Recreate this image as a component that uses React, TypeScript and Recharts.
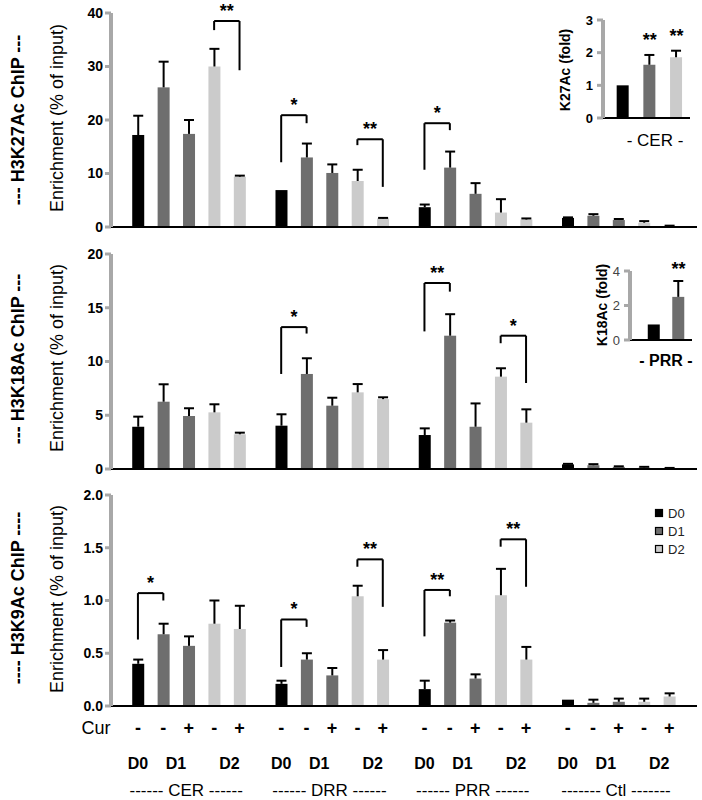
import React from "react";
import { BarChart, Bar, XAxis, YAxis, ReferenceLine, ReferenceDot } from "recharts";

const FONT = '"Liberation Sans", Arial, Helvetica, sans-serif';

const groups = ["CER", "DRR", "PRR", "Ctl"];
const barDays = ["D0", "D1", "D1", "D2", "D2"];
const curSigns = ["-", "-", "+", "-", "+"];
const dayLabels = ["D0", "D1", "D2"];
const dayLabelOffsets = [0, 1.5, 3.6];
const groupLabels = ["------ CER ------", "------ DRR ------", "------ PRR ------", "------- Ctl -------"];
const groupLabelOffset = 1.9;

// H3K27Ac, % of input
const k27Values = [17.2, 26.1, 17.4, 30.0, 9.4, 6.9, 13.0, 10.1, 8.6, 1.6, 3.7, 11.1, 6.2, 2.7, 1.4, 1.7, 2.1, 1.3, 0.8, 0.15];
const k27Errors = [3.6, 4.8, 2.6, 3.3, 0.2, 0, 2.6, 1.6, 2.1, 0.1, 0.5, 3.0, 2.0, 2.5, 0.2, 0.1, 0.3, 0.2, 0.3, 0.1];
// H3K18Ac
const k18Values = [3.93, 6.26, 4.93, 5.27, 3.23, 4.03, 8.84, 5.89, 7.13, 6.5, 3.16, 12.4, 3.93, 8.59, 4.31, 0.43, 0.35, 0.2, 0.15, 0.05];
const k18Errors = [0.94, 1.62, 0.72, 0.75, 0.15, 1.06, 1.46, 0.74, 0.77, 0.17, 0.62, 2.0, 2.17, 0.78, 1.24, 0.05, 0.1, 0.05, 0.05, 0.05];
// H3K9Ac
const k9Values = [0.4, 0.68, 0.57, 0.78, 0.73, 0.21, 0.44, 0.29, 1.04, 0.44, 0.16, 0.79, 0.26, 1.05, 0.44, 0.06, 0.03, 0.04, 0.04, 0.09];
const k9Errors = [0.04, 0.1, 0.09, 0.22, 0.22, 0.03, 0.06, 0.07, 0.1, 0.09, 0.08, 0.02, 0.04, 0.25, 0.12, 0, 0.03, 0.03, 0.03, 0.03];

const k27Ticks = [0, 10, 20, 30, 40];
const k18Ticks = [0, 5, 10, 15, 20];
const k9Ticks = [0, 0.5, 1, 1.5, 2];

// brackets: bar indices a/b, y of top, y where left/right legs end
type Bracket = { a: number; b: number; top: number; left: number; right: number; stars: string };
const k27Brackets: Bracket[] = [
  { a: 3, b: 4, top: 38.5, left: 36.8, right: 29.3, stars: "**" },
  { a: 5, b: 6, top: 20.9, left: 12.1, right: 19.4, stars: "*" },
  { a: 8, b: 9, top: 16.4, left: 15.3, right: 7.5, stars: "**" },
  { a: 10, b: 11, top: 19.4, left: 10.7, right: 18.1, stars: "*" },
];
const k18Brackets: Bracket[] = [
  { a: 5, b: 6, top: 13.2, left: 8.84, right: 12.6, stars: "*" },
  { a: 10, b: 11, top: 17.3, left: 12.8, right: 16.5, stars: "**" },
  { a: 13, b: 14, top: 12.4, left: 11.7, right: 8.0, stars: "*" },
];
const k9Brackets: Bracket[] = [
  { a: 0, b: 1, top: 1.07, left: 0.63, right: 1.0, stars: "*" },
  { a: 5, b: 6, top: 0.82, left: 0.37, right: 0.75, stars: "*" },
  { a: 8, b: 9, top: 1.39, left: 1.32, right: 0.94, stars: "**" },
  { a: 10, b: 11, top: 1.1, left: 0.66, right: 1.04, stars: "**" },
  { a: 13, b: 14, top: 1.58, left: 1.51, right: 1.13, stars: "**" },
];

// insets (fold change)
const k27InsetDays = ["D0", "D1", "D2"];
const k27InsetValues = [1.0, 1.63, 1.86];
const k27InsetErrors = [0, 0.3, 0.2];
const k27InsetStars = ["", "**", "**"];
const k18InsetDays = ["D0", "D1"];
const k18InsetValues = [0.9, 2.5];
const k18InsetErrors = [0, 0.92];
const k18InsetStars = ["", "**"];

const dayColors: Record<string, string> = { D0: "#000000", D1: "#6e6e6e", D2: "#cbcbcb" };
const legendDays = ["D0", "D1", "D2"];

const GROUP_STEP = 5.64;
const X_DOMAIN: [number, number] = [-1.06, 22.01];

type Row = { x: number; v: number; e: number; day: string; cur: string };

function buildRows(values: number[], errors: number[]): Row[] {
  return values.map((v, k) => {
    const g = Math.floor(k / 5);
    const i = k % 5;
    return { x: g * GROUP_STEP + i, v, e: errors[k], day: barDays[i], cur: curSigns[i] };
  });
}

const dayTicks = groups.flatMap((_, g) => dayLabelOffsets.map((o, j) => ({ x: g * GROUP_STEP + o, label: dayLabels[j] })));
const groupTicks = groups.map((_, g) => ({ x: g * GROUP_STEP + groupLabelOffset, label: groupLabels[g] }));

const same = (a: number, b: number) => Math.abs(a - b) < 1e-6;

const BarWithError = (props: any) => {
  const { x, y, width, height, payload } = props;
  const cx = x + width / 2;
  const unit = payload.v > 0 ? height / payload.v : 0;
  const top = y - payload.e * unit;
  return (
    <g>
      <rect x={x} y={y} width={width} height={Math.max(height, 0)} fill={dayColors[payload.day]} />
      {payload.e > 0 && (
        <g stroke="#000" strokeWidth={2}>
          <line x1={cx} y1={y} x2={cx} y2={top} />
          <line x1={cx - 5} y1={top} x2={cx + 5} y2={top} />
        </g>
      )}
    </g>
  );
};

const starStyle = { fill: "#000", fontSize: 18, fontWeight: "bold", fontFamily: FONT };

function bracketLines(rows: Row[], list: Bracket[]) {
  return list.flatMap((b, n) => {
    const xa = rows[b.a].x;
    const xb = rows[b.b].x;
    return [
      <ReferenceLine key={`l${n}`} segment={[{ x: xa, y: b.left }, { x: xa, y: b.top }]} stroke="#000" strokeWidth={2} />,
      <ReferenceLine key={`r${n}`} segment={[{ x: xb, y: b.right }, { x: xb, y: b.top }]} stroke="#000" strokeWidth={2} />,
      <ReferenceLine
        key={`t${n}`}
        segment={[{ x: xa, y: b.top }, { x: xb, y: b.top }]}
        stroke="#000"
        strokeWidth={2}
        label={{ value: b.stars, position: "top", offset: 4, ...starStyle }}
      />,
    ];
  });
}

function Panel({
  top,
  height,
  marginTop,
  xAxisHeight,
  values,
  errors,
  ticks,
  brackets,
  decimals,
  labels,
}: {
  top: number;
  height: number;
  marginTop: number;
  xAxisHeight: number;
  values: number[];
  errors: number[];
  ticks: number[];
  brackets: Bracket[];
  decimals: number;
  labels?: boolean;
}) {
  const rows = buildRows(values, errors);
  const allTicks: number[] = [];
  if (labels) {
    [...rows.map((r) => r.x), ...dayTicks.map((t) => t.x), ...groupTicks.map((t) => t.x)].forEach((v) => {
      if (!allTicks.some((u) => same(u, v))) allTicks.push(v);
    });
    allTicks.sort((a, b) => a - b);
  }
  const renderTick = (p: any) => {
    const v = p.payload.value;
    const bar = rows.find((r) => same(r.x, v));
    const day = dayTicks.find((t) => same(t.x, v));
    const grp = groupTicks.find((t) => same(t.x, v));
    return (
      <g fontFamily={FONT} fill="#000">
        {bar && (
          <text x={p.x} y={p.y + 22} textAnchor="middle" dominantBaseline="central" fontSize={18} fontWeight="bold">
            {bar.cur}
          </text>
        )}
        {day && (
          <text x={p.x} y={p.y + 57} textAnchor="middle" dominantBaseline="central" fontSize={16} fontWeight="bold">
            {day.label}
          </text>
        )}
        {grp && (
          <text x={p.x} y={p.y + 84} textAnchor="middle" dominantBaseline="central" fontSize={17}>
            {grp.label}
          </text>
        )}
      </g>
    );
  };
  return (
    <div style={{ position: "absolute", left: 0, top }}>
      <BarChart width={702} height={height} data={rows} margin={{ top: marginTop, right: 5, bottom: 0, left: 0 }}>
        <XAxis
          dataKey="x"
          type="number"
          domain={X_DOMAIN}
          allowDataOverflow
          ticks={allTicks}
          interval={0}
          height={xAxisHeight}
          axisLine={{ stroke: "#000", strokeWidth: 2 }}
          tickLine={false}
          tickSize={0}
          tickMargin={0}
          tick={labels ? renderTick : false}
        />
        <YAxis
          type="number"
          domain={[ticks[0], ticks[ticks.length - 1]]}
          ticks={ticks}
          interval={0}
          width={111}
          allowDataOverflow
          axisLine={{ stroke: "#a8a8a8", strokeWidth: 4 }}
          tickLine={{ stroke: "#a8a8a8", strokeWidth: 3 }}
          tickSize={6}
          tickMargin={2}
          tickFormatter={(v: number) => v.toFixed(decimals)}
          tick={{ fontSize: 14, fontWeight: "bold", fill: "#000", fontFamily: FONT }}
        />
        <Bar dataKey="v" barSize={12} isAnimationActive={false} shape={BarWithError} />
        {bracketLines(rows, brackets)}
      </BarChart>
    </div>
  );
}

function Inset({
  left,
  top,
  width,
  height,
  marginTop,
  yWidth,
  days,
  values,
  errors,
  stars,
  ticks,
  domainX,
  starOffset,
  tickBold,
}: {
  left: number;
  top: number;
  width: number;
  height: number;
  marginTop: number;
  yWidth: number;
  days: string[];
  values: number[];
  errors: number[];
  stars: string[];
  ticks: number[];
  domainX: [number, number];
  starOffset: number;
  tickBold: boolean;
}) {
  const rows = values.map((v, i) => ({ x: i, v, e: errors[i], day: days[i] }));
  return (
    <div style={{ position: "absolute", left, top }}>
      <BarChart width={width} height={height} data={rows} margin={{ top: marginTop, right: 10, bottom: 0, left: 0 }}>
        <XAxis
          dataKey="x"
          type="number"
          domain={domainX}
          allowDataOverflow
          ticks={[]}
          height={12}
          tick={false}
          tickLine={false}
          axisLine={{ stroke: "#000", strokeWidth: 2 }}
        />
        <YAxis
          type="number"
          domain={[ticks[0], ticks[ticks.length - 1]]}
          ticks={ticks}
          interval={0}
          width={yWidth}
          axisLine={{ stroke: "#a8a8a8", strokeWidth: 4 }}
          tickLine={{ stroke: "#a8a8a8", strokeWidth: 3 }}
          tickSize={6}
          tickMargin={4}
          tick={{ fontSize: 13, fontWeight: tickBold ? "bold" : "normal", fill: tickBold ? "#000" : "#444", fontFamily: FONT }}
        />
        <Bar dataKey="v" barSize={12} isAnimationActive={false} shape={BarWithError} />
        {rows.map((r, i) =>
          stars[i] ? (
            <ReferenceDot
              key={i}
              x={r.x}
              y={r.v + r.e}
              r={0}
              stroke="none"
              fill="none"
              ifOverflow="visible"
              label={{ value: stars[i], position: "top", offset: starOffset, ...starStyle }}
            />
          ) : null
        )}
      </BarChart>
    </div>
  );
}

function VText({ x, y, text, size, bold }: { x: number; y: number; text: string; size: number; bold?: boolean }) {
  return (
    <text
      transform={`translate(${x},${y}) rotate(-90)`}
      textAnchor="middle"
      dominantBaseline="central"
      fontSize={size}
      fontWeight={bold ? "bold" : "normal"}
      fontFamily={FONT}
      fill="#000"
    >
      {text}
    </text>
  );
}

export default function App() {
  return (
    <div style={{ position: "absolute", left: 0, top: 0, width: 702, height: 800, background: "#fff", overflow: "hidden", fontFamily: FONT }}>
      <Panel top={0} height={240} marginTop={13} xAxisHeight={13} values={k27Values} errors={k27Errors} ticks={k27Ticks} brackets={k27Brackets} decimals={0} />
      <Panel top={240} height={240} marginTop={14} xAxisHeight={11} values={k18Values} errors={k18Errors} ticks={k18Ticks} brackets={k18Brackets} decimals={0} />
      <Panel top={480} height={320} marginTop={15} xAxisHeight={94} values={k9Values} errors={k9Errors} ticks={k9Ticks} brackets={k9Brackets} decimals={1} labels />

      <Inset left={560} top={10} width={140} height={120} marginTop={10} yWidth={43} days={k27InsetDays} values={k27InsetValues} errors={k27InsetErrors} stars={k27InsetStars} ticks={[0, 1, 2, 3]} domainX={[-0.75, 2.51]} starOffset={9} tickBold />
      <Inset left={590} top={251} width={112} height={101} marginTop={20} yWidth={40} days={k18InsetDays} values={k18InsetValues} errors={k18InsetErrors} stars={k18InsetStars} ticks={[0, 2, 4]} domainX={[-0.98, 1.55]} starOffset={6} tickBold={false} />

      <svg width={702} height={800} style={{ position: "absolute", left: 0, top: 0, pointerEvents: "none" }}>
        <VText x={18} y={120} text="--- H3K27Ac ChIP ---" size={18} bold />
        <VText x={18} y={359} text="--- H3K18Ac ChIP ---" size={18} bold />
        <VText x={18} y={598} text="---- H3K9Ac ChIP ----" size={18} bold />
        <VText x={57} y={118} text="Enrichment (% of input)" size={18} />
        <VText x={57} y={358} text="Enrichment (% of input)" size={18} />
        <VText x={57} y={599} text="Enrichment (% of input)" size={18} />
        <VText x={565} y={70} text="K27Ac (fold)" size={14} bold />
        <VText x={602} y={305} text="K18Ac (fold)" size={14} bold />
        <text x={655} y={140} textAnchor="middle" dominantBaseline="central" fontSize={17} fontFamily={FONT} fill="#000">- CER -</text>
        <text x={666} y={360} textAnchor="middle" dominantBaseline="central" fontSize={16} fontWeight="bold" fontFamily={FONT} fill="#000">- PRR -</text>
        <text x={96} y={728} textAnchor="middle" dominantBaseline="central" fontSize={18} fontFamily={FONT} fill="#000">Cur</text>
        {legendDays.map((d, i) => (
          <g key={d}>
            <rect x={655.5} y={509.5 + i * 18} width={7} height={7} fill={dayColors[d]} stroke="#000" strokeWidth={1.2} />
            <text x={668} y={513 + i * 18} dominantBaseline="central" fontSize={13} fontFamily={FONT} fill="#222">{d}</text>
          </g>
        ))}
      </svg>
    </div>
  );
}
